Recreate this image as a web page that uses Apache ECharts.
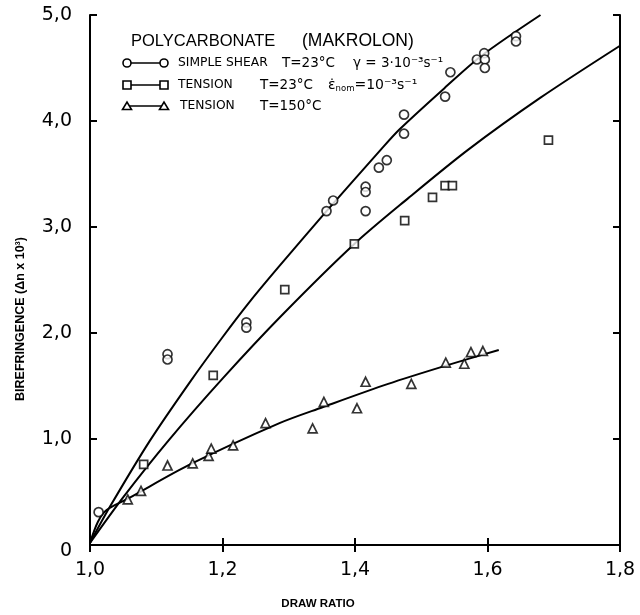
<!DOCTYPE html>
<html>
<head>
<meta charset="utf-8">
<script src="https://cdn.jsdelivr.net/npm/echarts@6/dist/echarts.min.js"></script>
<style>
  html, body { margin: 0; padding: 0; background: #fff; }
  #chart { width: 640px; height: 615px; }
</style>
</head>
<body>
<div id="chart"></div>
<script>
// measured points: [draw ratio, birefringence x 10^3]
var shearPts = [
    [1.013, 0.31], [1.117, 1.80], [1.117, 1.75], [1.236, 2.10], [1.236, 2.05],
    [1.357, 3.15], [1.367, 3.25], [1.416, 3.38], [1.416, 3.33], [1.416, 3.15],
    [1.436, 3.56], [1.448, 3.63], [1.474, 4.06], [1.474, 3.88], [1.536, 4.23],
    [1.544, 4.46], [1.584, 4.58], [1.595, 4.64], [1.596, 4.58], [1.596, 4.50],
    [1.643, 4.80], [1.643, 4.75]
];
var tension23Pts = [
    [1.081, 0.76], [1.186, 1.60], [1.294, 2.41], [1.399, 2.84], [1.475, 3.06],
    [1.517, 3.28], [1.536, 3.39], [1.547, 3.39], [1.692, 3.82]
];
var tension150Pts = [
    [1.057, 0.43], [1.077, 0.51], [1.117, 0.75], [1.155, 0.77], [1.179, 0.84],
    [1.183, 0.91], [1.216, 0.94], [1.265, 1.15], [1.336, 1.10], [1.353, 1.35],
    [1.403, 1.29], [1.416, 1.54], [1.485, 1.52], [1.537, 1.72], [1.565, 1.71],
    [1.575, 1.82], [1.593, 1.83]
];
// hand drawn fit curves
var shearCurve = [
    [1.0, 0.02], [1.03, 0.36], [1.09, 0.98], [1.15, 1.53], [1.2, 1.96],
    [1.243, 2.31], [1.287, 2.64], [1.357, 3.15], [1.439, 3.73], [1.467, 3.92],
    [1.535, 4.31], [1.592, 4.62], [1.68, 5.0]
];
var tension23Curve = [
    [1.0, 0.02], [1.05, 0.45], [1.119, 0.99], [1.2, 1.57], [1.29, 2.17],
    [1.399, 2.84], [1.48, 3.27], [1.571, 3.73], [1.68, 4.22], [1.8, 4.71]
];
var tension150Curve = [
    [1.0, 0.02], [1.012, 0.22], [1.025, 0.33], [1.058, 0.44], [1.151, 0.76],
    [1.286, 1.15], [1.351, 1.30], [1.45, 1.52], [1.536, 1.69], [1.617, 1.84]
];
var xTicks = { min: 1.0, max: 1.8, step: 0.2 };
var yTicks = { min: 0, max: 5, step: 1 };

var myChart = echarts.init(document.getElementById('chart'));
var FONT = 'DejaVu Sans';
var LBL = 'Liberation Sans';

function comma(v) {
    if (v === 0) return '{z|0}';
    return v.toFixed(1).replace('.', ',');
}

function lineSeries(data) {
    return {
        type: 'line', data: data, smooth: 0.3, symbol: 'none',
        lineStyle: { color: '#000', width: 2 }, z: 2, silent: true
    };
}
function pointSeries(data, sym) {
    return {
        type: 'scatter', data: data, symbol: sym,
        symbolSize: sym === 'rect' ? 8 : 9,
        itemStyle: { color: '#fff', borderColor: '#000', borderWidth: 1.7 },
        z: 3, silent: true
    };
}

var axisCommon = {
    axisLine: { show: true, lineStyle: { color: '#000', width: 2 } },
    axisTick: { show: true, inside: true, length: 7, lineStyle: { color: '#000', width: 2 } },
    splitLine: { show: false }
};

// legend block drawn by hand (three marker pairs + texts)
var legendGraphic = [];
var rows = [63, 85, 106];
var syms = ['circle', 'rect', 'triangle'];
rows.forEach(function (y, i) {
    legendGraphic.push({ type: 'line', shape: { x1: 127, y1: y, x2: 164, y2: y },
        style: { stroke: '#000', lineWidth: 1.6 } });
    [127, 164].forEach(function (x) {
        if (syms[i] === 'circle') {
            legendGraphic.push({ type: 'circle', shape: { cx: x, cy: y, r: 4 },
                style: { fill: '#fff', stroke: '#000', lineWidth: 1.6 } });
        } else if (syms[i] === 'rect') {
            legendGraphic.push({ type: 'rect', shape: { x: x - 4, y: y - 4, width: 8, height: 8 },
                style: { fill: '#fff', stroke: '#000', lineWidth: 1.6 } });
        } else {
            legendGraphic.push({ type: 'polygon', shape: { points: [[x - 4.5, y + 3.5], [x + 4.5, y + 3.5], [x, y - 4]] },
                style: { fill: '#fff', stroke: '#000', lineWidth: 1.6 } });
        }
    });
});
function txt(x, y, s, size, extra) {
    var o = { type: 'text', x: x, y: y,
        style: { text: s, fill: '#000', font: (size || 11) + 'px "' + FONT + '"', textVerticalAlign: 'middle' } };
    if (extra) { for (var k in extra) o.style[k] = extra[k]; }
    return o;
}
legendGraphic.push(txt(131, 41, 'POLYCARBONATE', 16.5, { font: '16.5px "' + LBL + '"' }));
legendGraphic.push(txt(302, 41, '(MAKROLON)', 17.5, { font: '17.5px "' + LBL + '"' }));
legendGraphic.push(txt(178, 63, 'SIMPLE SHEAR', 12.3));
legendGraphic.push(txt(282, 63, 'T=23°C', 13.5));
legendGraphic.push(txt(353, 63, 'γ = 3·10⁻³s⁻¹', 13.5));
legendGraphic.push(txt(178, 85, 'TENSION', 12.3));
legendGraphic.push(txt(260, 85, 'T=23°C', 13.5));
legendGraphic.push({
    type: 'text', x: 328, y: 85,
    style: {
        text: '{e|ε̇}{s|nom}{e|=10⁻³s⁻¹}',
        textVerticalAlign: 'middle',
        rich: {
            e: { fontSize: 14, fontFamily: FONT, color: '#000', lineHeight: 16 },
            s: { fontSize: 8.5, fontFamily: FONT, color: '#000', lineHeight: 16, verticalAlign: 'bottom' }
        }
    }
});
legendGraphic.push(txt(180, 106, 'TENSION', 12.3));
legendGraphic.push(txt(260, 106, 'T=150°C', 13.5));
// axis titles
legendGraphic.push({ type: 'text', x: 318, y: 604,
    style: { text: 'DRAW RATIO', fill: '#000', font: 'bold 11.5px "' + LBL + '"',
        textAlign: 'center', textVerticalAlign: 'middle' } });
legendGraphic.push({ type: 'text', x: 21, y: 319, rotation: Math.PI / 2,
    style: { text: 'BIREFRINGENCE (Δn x 10³)', fill: '#000', font: 'bold 12.5px "' + LBL + '"',
        textAlign: 'center', textVerticalAlign: 'middle' } });

var option = {
    animation: false,
    backgroundColor: '#fff',
    grid: { left: 90, right: 20, top: 15, bottom: 70 },
    xAxis: [
        Object.assign({
            type: 'value', position: 'bottom',
            min: xTicks.min, max: xTicks.max, interval: xTicks.step,
            axisLabel: { formatter: comma, color: '#000', fontFamily: FONT, fontSize: 19, margin: 16 }
        }, axisCommon),
        Object.assign({
            type: 'value', position: 'top',
            min: xTicks.min, max: xTicks.max, interval: xTicks.step,
            axisLabel: { show: false }
        }, axisCommon)
    ],
    yAxis: [
        Object.assign({
            type: 'value', position: 'left',
            min: yTicks.min, max: yTicks.max, interval: yTicks.step,
            axisLabel: {
                formatter: comma, color: '#000', fontFamily: FONT, fontSize: 19, margin: 18,
                rich: { z: { fontFamily: FONT, fontSize: 19, color: '#000', padding: [12, 0, 0, 0] } }
            }
        }, axisCommon),
        Object.assign({
            type: 'value', position: 'right',
            min: yTicks.min, max: yTicks.max, interval: yTicks.step,
            axisLabel: { show: false }
        }, axisCommon)
    ],
    graphic: legendGraphic,
    series: [
        lineSeries(shearCurve),
        lineSeries(tension23Curve),
        lineSeries(tension150Curve),
        pointSeries(shearPts, 'circle'),
        pointSeries(tension23Pts, 'rect'),
        pointSeries(tension150Pts, 'triangle')
    ]
};
myChart.setOption(option);
</script>
</body>
</html>
